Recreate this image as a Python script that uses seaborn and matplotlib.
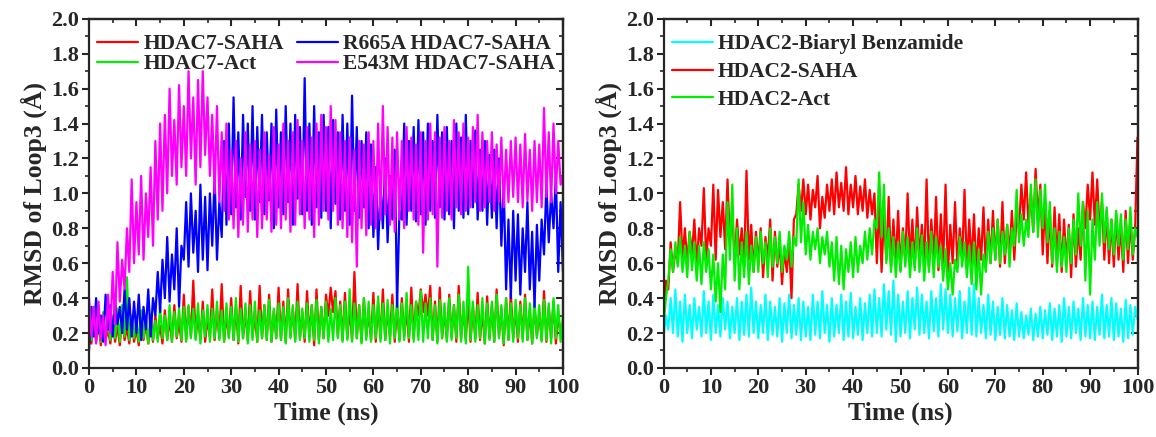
import numpy as np
import pandas as pd
import matplotlib
matplotlib.use('Agg')
import matplotlib.pyplot as plt
import seaborn as sns
from matplotlib.ticker import MultipleLocator, FormatStrFormatter

time_ns = np.linspace(0, 100, 201)

hdac7_saha = [
    0.20,0.14,0.28,0.15,0.25,0.13,0.27,0.16,0.22,0.14,
    0.26,0.15,0.24,0.13,0.30,0.16,0.23,0.14,0.27,0.15,
    0.22,0.13,0.28,0.16,0.25,0.14,0.26,0.15,0.30,0.17,
    0.24,0.14,0.33,0.16,0.28,0.15,0.36,0.17,0.26,0.15,
    0.42,0.16,0.35,0.18,0.50,0.17,0.30,0.16,0.38,0.15,
    0.28,0.18,0.45,0.16,0.33,0.17,0.48,0.15,0.30,0.18,
    0.40,0.16,0.35,0.14,0.47,0.17,0.32,0.16,0.44,0.18,
    0.30,0.15,0.47,0.17,0.36,0.16,0.42,0.15,0.33,0.17,
    0.46,0.16,0.38,0.15,0.45,0.18,0.34,0.16,0.48,0.17,
    0.32,0.15,0.44,0.18,0.36,0.13,0.45,0.16,0.35,0.17,
    0.42,0.30,0.46,0.32,0.44,0.18,0.38,0.16,0.43,0.17,
    0.34,0.16,0.55,0.17,0.36,0.15,0.40,0.18,0.32,0.16,
    0.43,0.15,0.37,0.17,0.45,0.16,0.33,0.18,0.42,0.15,
    0.35,0.16,0.40,0.18,0.34,0.15,0.46,0.17,0.38,0.30,
    0.45,0.32,0.42,0.30,0.47,0.16,0.38,0.15,0.46,0.17,
    0.33,0.16,0.42,0.18,0.36,0.15,0.47,0.17,0.34,0.16,
    0.40,0.15,0.35,0.17,0.43,0.16,0.33,0.14,0.41,0.17,
    0.36,0.15,0.45,0.18,0.34,0.13,0.40,0.16,0.43,0.17,
    0.34,0.15,0.38,0.17,0.42,0.16,0.33,0.14,0.36,0.18,
    0.32,0.16,0.44,0.15,0.35,0.17,0.38,0.14,0.30,0.20,
    0.25]

hdac7_act = [
    0.30,0.16,0.35,0.17,0.28,0.15,0.32,0.18,0.26,0.16,
    0.30,0.17,0.34,0.15,0.36,0.18,0.52,0.16,0.30,0.17,
    0.28,0.15,0.33,0.17,0.29,0.14,0.31,0.16,0.27,0.15,
    0.35,0.17,0.30,0.16,0.36,0.15,0.32,0.18,0.34,0.16,
    0.35,0.15,0.36,0.17,0.34,0.16,0.37,0.14,0.33,0.18,
    0.36,0.15,0.34,0.17,0.38,0.16,0.33,0.15,0.37,0.17,
    0.35,0.16,0.40,0.15,0.34,0.17,0.37,0.14,0.36,0.16,
    0.38,0.15,0.33,0.17,0.36,0.16,0.39,0.15,0.34,0.17,
    0.37,0.16,0.35,0.14,0.40,0.17,0.36,0.15,0.38,0.16,
    0.34,0.17,0.37,0.15,0.36,0.16,0.39,0.14,0.35,0.17,
    0.38,0.15,0.34,0.16,0.40,0.17,0.36,0.15,0.38,0.16,
    0.45,0.15,0.37,0.17,0.36,0.14,0.40,0.16,0.38,0.15,
    0.36,0.17,0.41,0.15,0.37,0.16,0.39,0.14,0.36,0.17,
    0.40,0.15,0.37,0.16,0.43,0.17,0.36,0.15,0.38,0.16,
    0.44,0.15,0.37,0.17,0.40,0.16,0.36,0.14,0.39,0.17,
    0.37,0.15,0.40,0.16,0.36,0.17,0.42,0.15,0.38,0.14,
    0.58,0.16,0.38,0.15,0.36,0.17,0.40,0.14,0.37,0.16,
    0.38,0.15,0.42,0.17,0.36,0.14,0.40,0.16,0.37,0.15,
    0.39,0.17,0.36,0.15,0.40,0.16,0.37,0.14,0.38,0.17,
    0.36,0.15,0.39,0.16,0.37,0.14,0.40,0.17,0.36,0.15,
    0.30]

r665a_saha = [
    0.10,0.35,0.18,0.40,0.20,0.30,0.15,0.42,0.22,0.36,
    0.18,0.38,0.25,0.35,0.20,0.45,0.22,0.40,0.18,0.38,
    0.20,0.42,0.16,0.35,0.22,0.45,0.18,0.40,0.30,0.55,
    0.32,0.62,0.40,0.75,0.38,0.65,0.45,0.80,0.35,0.70,
    0.62,0.95,0.58,1.00,0.66,0.90,0.55,1.05,0.62,0.98,
    0.56,1.00,0.70,1.10,0.62,0.95,0.75,1.30,0.82,1.40,
    0.88,1.55,0.92,1.35,0.85,1.45,0.98,1.40,0.90,1.50,
    0.85,1.38,0.95,1.45,0.88,1.35,0.96,1.40,0.80,1.48,
    0.92,1.35,0.88,1.50,0.95,1.40,0.82,1.45,0.97,1.38,
    0.88,1.66,0.90,1.40,0.82,1.50,0.92,1.35,0.86,1.45,
    0.90,1.38,0.80,1.42,0.94,1.35,0.85,1.45,0.90,1.40,
    0.82,1.56,0.90,1.38,0.86,1.30,0.92,1.35,0.80,1.28,
    0.75,1.15,0.68,1.05,0.80,1.20,0.72,1.10,0.85,1.25,
    0.35,0.90,0.85,1.40,0.82,1.30,0.90,1.38,0.84,1.42,
    0.88,1.35,0.82,1.40,0.90,1.30,0.86,1.45,0.92,1.35,
    0.85,1.38,0.88,1.30,0.80,1.40,0.90,1.32,0.86,1.45,
    0.88,1.30,0.92,1.36,0.85,1.25,0.90,1.30,0.82,1.22,
    0.86,1.25,0.80,1.20,0.70,1.05,0.45,0.85,0.40,0.90,
    0.50,0.88,0.42,0.80,0.55,0.95,0.45,0.78,0.35,0.82,
    0.50,0.85,0.65,1.05,0.72,1.00,0.80,1.10,0.55,0.95,
    0.55]

e543m_saha = [
    0.40,0.18,0.35,0.14,0.38,0.16,0.30,0.13,0.42,0.20,
    0.55,0.25,0.72,0.38,0.62,0.45,0.80,0.55,1.08,0.60,
    0.95,0.65,1.10,0.62,1.00,0.75,1.15,0.70,1.30,0.85,
    1.40,0.90,1.45,1.00,1.60,1.10,1.42,1.05,1.62,1.15,
    1.50,1.10,1.70,1.20,1.55,1.05,1.65,1.15,1.70,1.22,
    1.55,1.10,1.45,1.00,1.50,0.95,1.35,0.90,1.40,0.85,
    1.25,0.80,1.30,0.75,1.20,0.82,1.35,0.78,1.28,0.85,
    1.30,0.75,1.25,0.80,1.35,0.85,1.22,0.78,1.38,0.82,
    1.28,0.80,1.40,0.85,1.30,0.78,1.35,0.82,1.42,0.88,
    1.30,0.80,1.38,0.85,1.32,0.75,1.40,0.82,1.45,0.90,
    1.38,0.85,1.50,0.90,1.42,0.82,1.35,0.80,1.30,0.75,
    1.32,0.72,1.25,0.58,1.30,0.80,1.28,0.76,1.35,0.82,
    1.30,0.80,1.40,0.85,1.50,0.88,1.38,0.82,1.32,0.78,
    1.35,0.85,1.30,0.80,1.38,0.90,1.32,0.85,1.28,0.82,
    1.35,0.66,1.30,0.85,1.40,0.88,1.35,0.58,1.32,0.86,
    1.38,0.90,1.30,0.85,1.42,0.92,1.35,0.88,1.40,0.90,
    1.32,0.92,1.38,0.95,1.45,0.90,1.35,0.92,1.30,0.95,
    1.35,0.90,1.28,0.95,1.32,0.92,1.25,0.95,1.30,0.98,
    1.32,0.95,1.28,0.92,1.34,0.96,1.25,0.90,1.30,0.95,
    1.28,0.92,1.49,0.98,1.35,0.95,1.40,1.00,1.30,1.05,
    1.10]

hdac2_biaryl = [
    0.18,0.30,0.22,0.40,0.20,0.45,0.18,0.38,0.15,0.42,
    0.20,0.36,0.17,0.40,0.22,0.35,0.18,0.44,0.20,0.38,
    0.16,0.42,0.20,0.36,0.18,0.40,0.22,0.38,0.17,0.35,
    0.20,0.40,0.16,0.38,0.19,0.42,0.18,0.46,0.20,0.38,
    0.17,0.36,0.20,0.42,0.16,0.38,0.19,0.35,0.18,0.40,
    0.15,0.37,0.20,0.42,0.17,0.36,0.19,0.40,0.16,0.38,
    0.18,0.35,0.16,0.42,0.19,0.38,0.17,0.44,0.20,0.36,
    0.15,0.40,0.18,0.36,0.20,0.42,0.16,0.38,0.18,0.43,
    0.17,0.35,0.19,0.40,0.16,0.37,0.20,0.42,0.18,0.45,
    0.20,0.40,0.18,0.48,0.22,0.44,0.19,0.50,0.15,0.42,
    0.18,0.38,0.20,0.44,0.17,0.40,0.22,0.46,0.19,0.42,
    0.20,0.38,0.17,0.44,0.21,0.40,0.18,0.48,0.22,0.45,
    0.20,0.42,0.18,0.40,0.21,0.44,0.17,0.38,0.20,0.46,
    0.19,0.48,0.18,0.40,0.20,0.36,0.17,0.42,0.19,0.38,
    0.16,0.35,0.19,0.40,0.17,0.36,0.18,0.33,0.16,0.37,
    0.18,0.32,0.17,0.30,0.19,0.34,0.16,0.31,0.18,0.35,
    0.17,0.33,0.19,0.37,0.16,0.34,0.18,0.36,0.15,0.40,
    0.18,0.35,0.17,0.38,0.20,0.34,0.16,0.40,0.18,0.36,
    0.17,0.38,0.16,0.35,0.19,0.42,0.17,0.36,0.18,0.40,
    0.16,0.37,0.18,0.34,0.15,0.39,0.17,0.36,0.19,0.35,
    0.28]

hdac2_saha = [
    0.30,0.50,0.45,0.72,0.55,0.68,0.60,0.95,0.62,0.80,
    0.60,0.78,0.65,0.85,0.58,0.80,0.70,1.03,0.62,0.80,
    0.70,1.05,0.62,1.02,0.75,0.95,0.68,1.08,0.72,0.90,
    0.60,0.85,0.65,0.80,0.58,1.13,0.62,0.82,0.55,0.78,
    0.60,0.80,0.52,0.75,0.62,0.85,0.50,0.78,0.58,0.72,
    0.48,0.68,0.55,0.72,0.40,0.85,0.88,1.05,0.90,1.08,
    0.88,1.05,0.85,1.02,0.92,1.10,0.80,0.98,0.86,1.05,
    0.90,1.08,0.88,1.12,0.92,1.06,0.90,1.15,0.88,1.05,
    0.92,1.10,0.88,1.04,0.90,1.08,0.86,1.02,0.88,1.00,
    0.60,0.95,0.55,0.88,0.62,0.98,0.58,0.85,0.60,0.90,
    0.56,0.80,0.62,1.00,0.60,0.85,0.58,0.92,0.62,0.82,
    0.60,1.08,0.58,0.85,0.62,0.98,0.56,0.88,0.60,1.05,
    0.55,0.82,0.60,0.95,0.58,0.80,0.62,1.02,0.57,0.85,
    0.60,0.88,0.55,0.80,0.62,0.92,0.58,0.85,0.60,0.90,
    0.62,0.85,0.58,0.95,0.60,0.82,0.65,0.90,0.62,0.88,
    0.80,1.05,0.85,1.12,0.82,1.00,0.78,1.14,0.85,1.05,
    0.65,0.95,0.60,0.90,0.58,0.92,0.62,0.88,0.55,0.85,
    0.60,0.82,0.52,0.88,0.58,0.80,0.62,0.95,0.80,1.05,
    0.85,1.12,0.82,1.08,0.78,0.95,0.62,0.90,0.60,0.85,
    0.58,0.88,0.62,0.82,0.55,0.90,0.60,0.85,0.62,0.80,
    1.32]

hdac2_act = [
    0.25,0.40,0.50,0.68,0.55,0.72,0.58,0.75,0.55,0.70,
    0.52,0.78,0.56,0.72,0.50,0.70,0.48,0.72,0.55,0.68,
    0.45,0.65,0.38,0.60,0.32,0.65,0.45,0.95,0.62,1.05,
    0.50,0.80,0.45,0.72,0.52,0.78,0.48,0.70,0.55,0.75,
    0.55,0.78,0.60,0.72,0.52,0.80,0.58,0.75,0.60,0.78,
    0.55,0.70,0.62,0.78,0.58,0.75,0.70,1.08,0.72,0.95,
    0.65,0.82,0.62,0.78,0.68,0.80,0.60,0.75,0.65,0.78,
    0.58,0.72,0.50,0.75,0.48,0.70,0.45,0.68,0.55,0.72,
    0.52,0.75,0.55,0.70,0.60,0.78,0.62,0.80,0.65,0.85,
    0.80,1.12,0.75,1.05,0.60,0.80,0.55,0.75,0.52,0.72,
    0.55,0.78,0.58,0.75,0.52,0.72,0.56,0.80,0.55,0.76,
    0.50,0.72,0.55,0.78,0.52,0.75,0.58,0.70,0.50,0.68,
    0.45,0.60,0.42,0.62,0.55,0.75,0.58,0.72,0.52,0.70,
    0.48,0.72,0.45,0.68,0.42,0.65,0.55,0.78,0.60,0.80,
    0.62,0.85,0.60,0.78,0.65,0.82,0.58,0.80,0.70,1.02,
    0.72,0.88,0.70,0.85,0.75,1.05,0.78,1.08,0.75,1.02,
    0.80,1.05,0.72,0.95,0.60,0.80,0.55,0.78,0.58,0.75,
    0.55,0.80,0.60,0.85,0.65,1.00,0.70,0.95,0.50,0.90,
    0.42,0.85,0.62,0.95,0.70,1.00,0.72,0.92,0.68,0.85,
    0.65,0.90,0.70,0.88,0.62,0.85,0.68,0.92,0.65,0.80,
    0.75]

left_series = [("HDAC7-SAHA", hdac7_saha, "#ff0000"),
               ("HDAC7-Act", hdac7_act, "#00ee00"),
               ("R665A HDAC7-SAHA", r665a_saha, "#0000ff"),
               ("E543M HDAC7-SAHA", e543m_saha, "#ff00ff")]
right_series = [("HDAC2-Biaryl Benzamide", hdac2_biaryl, "#00ffff"),
                ("HDAC2-SAHA", hdac2_saha, "#ff0000"),
                ("HDAC2-Act", hdac2_act, "#00ee00")]

# %% plot

sns.set_style("ticks")
plt.rcParams['font.family'] = ['Liberation Serif', 'DejaVu Serif']
plt.rcParams['font.weight'] = 'bold'
plt.rcParams['axes.linewidth'] = 1.6

fig = plt.figure(figsize=(11.56, 4.37), dpi=100)
ax1 = fig.add_axes([0.077, 0.158, 0.410, 0.799])
ax2 = fig.add_axes([0.574, 0.158, 0.410, 0.799])


def draw_panel(ax, series, ncol, labelspacing):
    for name, vals, col in series:
        sns.lineplot(x=time_ns, y=vals, color=col, lw=1.6, label=name, ax=ax)
    ax.set_xlim(0, 100)
    ax.set_ylim(0, 2.0)
    ax.xaxis.set_major_locator(MultipleLocator(10))
    ax.xaxis.set_minor_locator(MultipleLocator(5))
    ax.yaxis.set_major_locator(MultipleLocator(0.2))
    ax.yaxis.set_minor_locator(MultipleLocator(0.1))
    ax.yaxis.set_major_formatter(FormatStrFormatter('%.1f'))
    ax.tick_params(which='major', direction='out', length=5, width=1.5,
                   labelsize=16, pad=2)
    ax.tick_params(which='minor', direction='out', length=3, width=1.2)
    for lab in ax.get_xticklabels() + ax.get_yticklabels():
        lab.set_fontweight('bold')
    # mirrored inward ticks on top and right
    top = ax.secondary_xaxis('top')
    top.xaxis.set_major_locator(MultipleLocator(10))
    top.xaxis.set_minor_locator(MultipleLocator(5))
    top.tick_params(which='major', direction='in', length=5, width=1.5, labeltop=False)
    top.tick_params(which='minor', direction='in', length=3, width=1.2)
    right = ax.secondary_yaxis('right')
    right.yaxis.set_major_locator(MultipleLocator(0.2))
    right.yaxis.set_minor_locator(MultipleLocator(0.1))
    right.tick_params(which='major', direction='in', length=5, width=1.5, labelright=False)
    right.tick_params(which='minor', direction='in', length=3, width=1.2)
    ax.set_xlabel("Time (ns)", fontsize=18.5, fontweight='bold', labelpad=3)
    ax.set_ylabel("RMSD of Loop3 (Å)", fontsize=18.5, fontweight='bold', labelpad=3)
    leg = ax.legend(loc='upper left', bbox_to_anchor=(0.008, 0.968),
                    ncol=ncol, frameon=False,
                    prop={'weight': 'bold', 'size': 15.5},
                    handlelength=1.9, handletextpad=0.25, columnspacing=0.6,
                    labelspacing=labelspacing, borderaxespad=0.0,
                    borderpad=0.2)
    for h in leg.get_lines():
        h.set_linewidth(1.6)


draw_panel(ax1, left_series, 2, 0.0)
draw_panel(ax2, right_series, 1, 0.36)

fig.savefig("out.png", dpi=100)
